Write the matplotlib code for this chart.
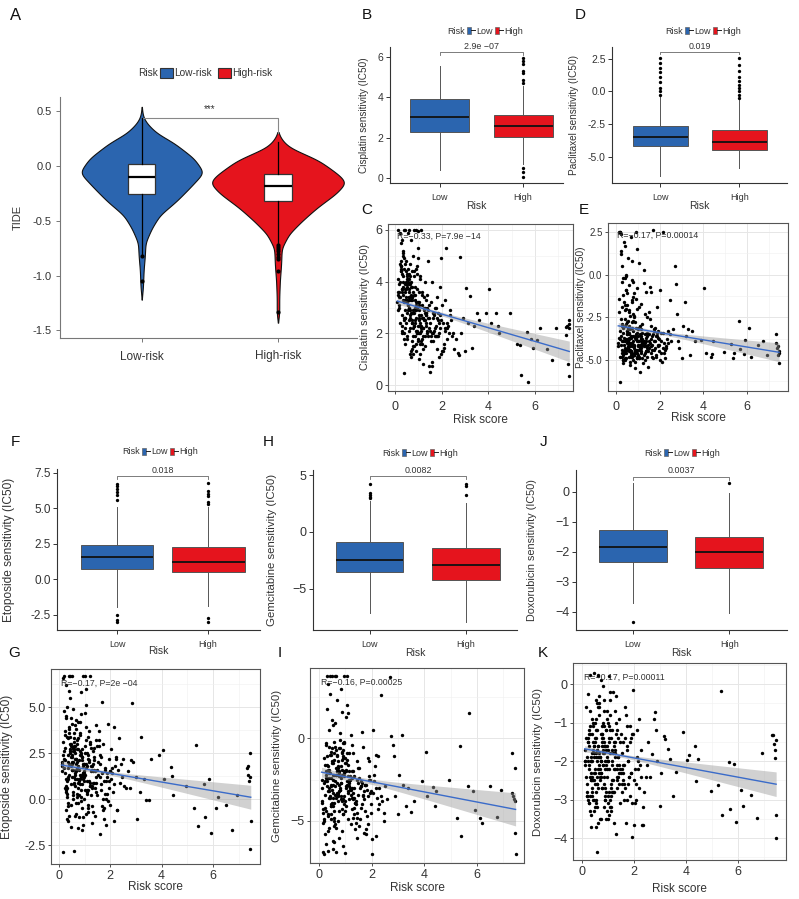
import matplotlib
matplotlib.use("Agg")
import matplotlib.pyplot as plt
import numpy as np
from matplotlib.patches import Patch
from matplotlib.lines import Line2D
from matplotlib.legend_handler import HandlerTuple
from matplotlib.ticker import MultipleLocator, FormatStrFormatter

plt.rcParams['font.family'] = ['Liberation Sans', 'DejaVu Sans']

BLUE = '#2B65AF'
RED = '#E5141D'
W, H = 799, 899

# ---------------- data ----------------
# A: TIDE violin profiles (y value, relative density)
tide_y_low = [0.54, 0.45, 0.39, 0.30, 0.21, 0.07, -0.06, -0.20, -0.32, -0.45, -0.57, -0.70, -0.82, -0.95, -1.10, -1.22]
tide_d_low = [0, .02, .08, .24, .52, .84, 1.0, .77, .56, .29, .16, .06, .05, .03, .02, 0]
tide_y_high = [0.31, 0.24, 0.17, 0.05, -0.08, -0.15, -0.25, -0.38, -0.50, -0.62, -0.75, -0.90, -1.05, -1.20, -1.35, -1.43]
tide_d_high = [0, .06, .18, .66, .98, 1.10, .94, .63, .39, .18, .06, .05, .03, .02, .02, 0]
# box stats: whislo, q1, med, q3, whishi
tide_box_low = [-0.80, -0.26, -0.10, 0.02, 0.44]
tide_box_high = [-0.70, -0.32, -0.18, -0.07, 0.22]
tide_fl_low = [-0.82, -1.05]
tide_fl_high = [-0.72, -0.74, -0.76, -0.78, -0.80, -0.83, -0.85, -0.96, -1.33]

# drug boxplots (Low, High)
cis_box = [[0.38, 2.3, 3.05, 3.9, 5.55], [0.71, 2.04, 2.57, 3.12, 4.55]]
cis_fl = [[], [5.95, 5.81, 5.65, 5.32, 5.2, 4.87, 4.7, 0.47, 0.3, 0.05]]
pac_box = [[-6.47, -4.18, -3.47, -2.66, -0.37], [-5.84, -4.49, -3.85, -2.96, -0.62]]
pac_fl = [[-0.24, 0.01, 0.27, 0.7, 1.1, 1.46, 1.79, 2.17, 2.55],
          [-0.5, -0.24, 0.01, 0.27, 0.52, 0.78, 1.1, 1.53, 2.04, 2.55]]
eto_box = [[-1.95, 0.73, 1.55, 2.43, 5.1], [-1.86, 0.54, 1.22, 2.26, 5.1]]
eto_fl = [[6.75, 6.6, 6.4, 6.15, 5.97, 5.57, -2.5, -2.83, -3.0],
          [6.8, 6.2, 6.05, 5.9, 5.45, 5.33, -2.7, -3.0]]
gem_box = [[-7.08, -3.47, -2.48, -0.9, 2.68], [-7.9, -4.23, -2.94, -1.4, 2.54]]
gem_fl = [[4.23, 3.4, 3.27, 3.1, 2.97], [4.23, 4.05, 3.27]]
dox_box = [[-3.69, -2.33, -1.84, -1.27, 0.3], [-4.02, -2.53, -2.0, -1.5, -0.03]]
dox_fl = [[-4.33], [0.29]]

# risk score of every sample (dense part, then sparse tail)
risk_dense = [
    0.10, 0.14, 0.21, 0.17, 0.26, 0.12, 0.31, 0.23, 0.19, 0.35,
    0.28, 0.15, 0.38, 0.24, 0.33, 0.42, 0.11, 0.29, 0.45, 0.36,
    0.40, 0.48, 0.22, 0.52, 0.34, 0.44, 0.27, 0.56, 0.39, 0.50,
    0.47, 0.58, 0.32, 0.62, 0.43, 0.55, 0.37, 0.60, 0.51, 0.66,
    0.64, 0.53, 0.70, 0.46, 0.68, 0.57, 0.73, 0.41, 0.63, 0.76,
    0.59, 0.72, 0.80, 0.65, 0.78, 0.54, 0.83, 0.69, 0.86, 0.61,
    0.75, 0.89, 0.67, 0.92, 0.81, 0.71, 0.95, 0.77, 0.88, 0.98,
    0.84, 1.01, 0.79, 1.04, 0.91, 0.74, 1.07, 0.96, 0.87, 1.10,
    0.93, 1.13, 0.82, 1.16, 1.00, 0.90, 1.19, 1.05, 0.97, 1.22,
    1.09, 1.25, 0.85, 1.28, 1.12, 0.99, 1.31, 1.02, 1.18, 1.34,
    1.15, 1.37, 1.06, 1.40, 1.21, 0.94, 1.44, 1.27, 1.11, 1.47,
    1.24, 1.50, 1.33, 1.54, 1.08, 1.39, 1.57, 1.30, 1.61, 1.43,
    1.64, 1.36, 1.68, 1.52, 1.72, 1.46, 1.76, 1.59, 1.80, 1.66,
    1.84, 1.55, 1.88, 1.70, 1.92, 1.63, 1.96, 1.78, 2.00, 1.74,
    2.04, 1.86, 2.08, 1.82, 2.13, 1.94, 2.18, 1.90, 2.23, 2.02,
    2.28, 1.98, 2.34, 2.10, 2.40, 2.16, 2.46, 2.21, 2.52, 2.30,
    0.13, 0.25, 0.49, 0.30, 0.62, 0.44, 0.88, 0.53, 1.03, 0.71,
    0.16, 0.58, 0.36, 0.81, 0.47, 1.14, 0.66, 0.97, 0.20, 1.26,
    0.39, 0.74, 0.55, 0.93, 0.63, 1.17, 0.78, 1.35, 0.86, 0.50,
    1.20, 0.68, 1.42, 0.91, 0.34, 1.05, 0.59, 1.29, 0.76, 1.58,
    0.18, 0.42, 0.27, 0.65, 0.51, 0.83, 0.37, 1.02, 0.59, 0.22,
    0.72, 0.31, 0.94, 0.46, 1.13, 0.57, 0.26, 0.79, 1.24, 0.41,
    0.88, 0.53, 1.07, 0.33, 0.69, 1.31, 0.47, 0.96, 0.61, 1.45,
    0.24, 0.77, 0.39, 1.16, 0.55, 0.85, 1.38, 0.29, 1.01, 0.67,
    0.49, 1.21, 0.73, 0.35, 0.92, 1.53, 0.62, 0.19, 1.09, 0.81,
    1.66, 0.43, 1.27, 0.98, 1.74, 0.58, 1.85, 1.12, 0.71, 1.97,
    0.28, 1.35, 0.86, 1.58, 0.45, 1.04, 2.06, 0.64, 1.43, 0.90,
    2.15, 0.52, 1.19, 1.71, 0.37, 0.99, 2.25, 0.75, 1.49, 0.60,
    0.83, 1.62, 0.30, 1.09, 1.89, 0.56, 2.36, 0.95, 1.28, 0.44,
    1.78, 0.68, 2.48, 1.15, 0.40, 1.93, 0.87, 2.60, 1.33, 0.52]
risk_sparse = [2.7, 2.75, 2.8, 2.85, 2.9, 3.0, 3.05, 3.15, 3.2, 3.3,
               3.4, 3.5, 3.6, 3.9, 4.05, 4.1, 4.35, 4.4, 4.45, 4.95,
               5.25, 5.35, 5.4, 5.65, 5.7, 5.85, 5.92, 6.1, 6.2, 6.5,
               6.75, 6.92, 7.32, 7.35, 7.38, 7.42, 7.44, 7.45, 7.46, 7.47]

cis_dense = [
    3.2, 6.0, 2.4, 3.9, 4.8, 3.5, 2.1, 5.9, 3.0, 4.2,
    2.7, 3.6, 1.8, 4.4, 3.3, 2.9, 4.1, 2.3, 6.0, 3.8,
    2.6, 4.0, 3.4, 1.9, 5.1, 2.2, 4.6, 3.1, 0.45, 2.8,
    3.7, 2.5, 4.3, 3.0, 1.6, 4.5, 2.0, 6.0, 3.3, 2.7,
    1.2, 4.1, 3.5, 2.4, 5.6, 2.9, 1.7, 3.9, 4.7, 2.2,
    3.0, 1.4, 4.2, 2.6, 3.6, 5.9, 2.3, 4.0, 1.9, 3.4,
    2.8, 6.0, 1.1, 3.2, 4.4, 2.5, 3.7, 1.5, 2.1, 4.9,
    3.3, 2.0, 5.0, 2.7, 1.3, 3.8, 2.4, 4.6, 3.0, 1.7,
    4.3, 2.2, 6.0, 3.1, 1.8, 2.9, 0.8, 3.6, 5.3, 2.6,
    1.6, 3.4, 2.5, 4.0, 2.1, 5.95, 2.8, 3.2, 1.9, 2.3,
    3.5, 2.0, 4.1, 2.6, 1.4, 3.0, 0.75, 2.8, 6.0, 2.2,
    2.9, 2.4, 3.3, 1.7, 4.2, 2.1, 0.75, 3.0, 2.6, 4.8,
    2.0, 3.5, 2.7, 0.5, 1.9, 3.1, 2.3, 4.0, 1.4, 2.8,
    2.5, 3.2, 1.1, 2.2, 3.8, 1.7, 4.9, 2.6, 1.3, 3.0,
    2.4, 1.9, 1.45, 3.4, 2.1, 2.7, 5.3, 2.0, 1.8, 3.1,
    2.3, 1.2, 2.9, 1.6, 2.5, 3.3, 1.9, 2.2, 1.4, 2.0,
    2.9, 4.4, 3.2, 2.0, 3.7, 2.6, 4.5, 1.8, 3.1, 2.4,
    3.6, 2.1, 4.0, 2.8, 3.4, 1.6, 3.9, 2.3, 4.7, 3.0,
    2.5, 3.3, 4.1, 2.0, 2.9, 3.6, 1.2, 2.7, 3.5, 4.3,
    2.2, 3.8, 1.9, 3.1, 5.0, 2.6, 3.4, 1.5, 2.8, 0.9,
    3.4, 2.6, 4.5, 2.2, 3.8, 1.5, 6.0, 2.9, 3.3, 4.0,
    2.4, 3.7, 2.0, 4.8, 2.7, 3.1, 5.5, 1.9, 2.5, 3.6,
    3.0, 4.2, 2.3, 3.5, 1.3, 2.8, 4.4, 2.1, 3.9, 2.6,
    4.6, 2.9, 3.2, 1.8, 4.1, 2.4, 3.0, 3.7, 1.0, 2.8,
    3.9, 2.2, 3.4, 5.2, 2.6, 1.9, 4.3, 3.1, 2.0, 3.5,
    2.1, 4.7, 2.5, 3.2, 1.9, 3.6, 2.8, 2.3, 4.4, 2.5,
    5.6, 2.7, 3.8, 2.0, 3.3, 2.5, 1.3, 4.2, 2.9, 1.6,
    2.2, 3.9, 2.6, 3.0, 4.9, 1.7, 2.4, 3.4, 2.1, 4.1,
    2.3, 2.8, 3.6, 1.2, 2.4, 4.0, 2.7, 3.0, 1.9, 3.7,
    1.9, 3.3, 2.0, 2.6, 4.5, 2.2, 2.9, 1.8, 2.4, 3.2]
cis_sparse = [1.25, 1.15, 4.97, 2.0, 2.6, 1.3, 3.75, 2.4, 3.43, 1.45,
              2.3, 2.8, 2.5, 2.8, 3.7, 2.4, 2.8, 2.3, 2.0, 2.8,
              1.6, 1.55, 0.37, 2.05, 0.1, 1.8, 1.45, 1.75, 2.2, 1.4,
              0.95, 2.2, 1.95, 2.25, 2.3, 0.8, 2.2, 2.5, 0.35, 2.35]

pac_dense = [
    -4.2, 2.5, -3.6, 2.5, -4.8, -1.4, -3.1, 2.4, -6.3, -4.5,
    -3.9, -2.2, -4.6, 1.2, -3.4, -0.2, -4.0, -2.9, -4.4, -3.7,
    -5.0, -3.3, -4.1, -1.8, -4.7, -3.8, 0.5, -4.3, -2.6, -3.5,
    -4.9, -0.6, -3.9, -4.4, 1.7, -3.2, -4.6, -2.1, -3.8, -5.3,
    -4.1, -2.7, -4.5, -0.9, -3.6, -4.8, -1.6, -3.0, -4.2, -5.0,
    -3.4, 0.8, -4.7, -2.4, -3.9, -4.3, -1.1, -3.7, -5.1, -4.0,
    -2.8, -4.5, 2.2, -3.8, -4.1, -0.3, -4.9, -3.3, -5.5, -2.0,
    -4.3, -3.6, -1.3, -4.8, -3.1, -4.0, 0.7, -3.9, -4.4, -5.7,
    -3.5, -4.6, -2.5, -1.7, -4.2, 2.5, -3.8, -4.9, 1.5, -4.1,
    -3.0, -5.2, -4.4, -0.5, -3.7, -4.1, -2.3, -4.7, -3.4, -5.0,
    -4.5, -1.0, -3.9, -4.3, -2.9, -4.8, -3.6, 0.3, -4.1, -5.4,
    -4.0, -3.5, -4.6, -2.6, -4.4, -3.9, -0.7, -4.2, -3.0, -4.8,
    -4.1, -3.7, -4.9, -2.2, -3.9, -4.5, -3.3, -1.0, -4.3, -3.6,
    -4.7, -4.0, -3.4, 2.6, -4.2, -4.8, -3.8, -3.1, -5.0, -4.4,
    -3.9, -1.9, -4.6, -3.6, 2.5, -4.1, -4.0, -3.3, -4.9, -0.9,
    -4.2, -4.5, -3.8, -5.1, -4.0, -3.4, -1.5, -4.6, -3.9, -4.3,
    -3.7, -4.4, -2.8, -5.0, -3.2, 0.0, -4.5, -3.9, -1.9, -4.2,
    -4.8, -3.5, -4.1, -2.4, -4.6, -3.8, -4.0, -0.8, -3.3, -4.7,
    -4.3, -3.1, 1.0, -4.5, -3.7, -4.9, -2.7, -4.2, -3.6, -4.0,
    -3.9, -4.6, -3.4, -1.4, -5.2, -4.4, -3.0, -4.1, -0.4, -4.6,
    -3.8, -4.4, -1.9, -4.1, -3.5, -4.7, 1.9, -3.2, -4.5, -2.6,
    -4.0, -5.0, -3.4, -0.1, -4.3, -3.7, -4.6, -2.3, -4.0, -3.9,
    -4.6, -3.1, -4.2, -1.2, -4.8, -3.5, -2.0, -4.4, -3.8, -4.1,
    1.4, -3.6, -4.9, -3.2, -4.2, -2.8, -4.5, -0.4, -3.9, -4.7,
    -3.3, -4.0, -4.6, -1.6, -3.7, -4.3, -5.1, 2.5, -3.5, -4.2,
    -4.4, -2.1, -3.9, -4.6, -3.2, -4.0, -4.8, -3.6, -1.5, -4.1,
    -3.0, -4.5, -3.7, -4.2, -0.9, -4.9, -3.4, -4.1, -2.5, -3.8,
    -4.3, -1.1, -4.0, -3.5, -4.6, -3.1, -4.4, -4.8, -3.9, -2.2,
    -4.7, -3.8, -0.2, -4.3, -3.6, -4.0, -3.3, -4.9, -4.1, -2.9,
    -3.9, -4.5, -3.5, -4.2, -1.8, -3.7, -4.6, -3.2, -4.0, -4.4]
pac_sparse = [0.53, -0.53, -2.3, -3.9, -4.3, -4.9, -3.0, -1.6, -3.6, -3.17,
              -4.7, -3.33, -3.9, -3.85, -0.78, -4.6, -4.8, -4.65, -3.9, -4.56,
              -4.07, -4.9, -4.6, -2.7, -4.37, -4.64, -3.85, -3.1, -4.8, -4.1,
              -3.9, -4.7, -3.5, -4.0, -4.3, -4.7, -4.2, -4.5, -5.2, -4.6]

eto_dense = [
    1.5, 6.6, 2.2, -2.9, 4.5, 1.8, 0.3, 2.8, 6.7, 1.1,
    0.7, 2.4, 3.6, 1.4, 0.1, 5.5, 1.9, -0.6, 2.9, 1.2,
    3.9, 0.8, 2.1, 1.6, -1.2, 2.6, 0.5, 4.9, 1.3, 2.0,
    -0.3, 3.3, 1.0, 2.5, 6.7, 0.4, 1.7, -2.8, 2.3, 3.8,
    1.4, 0.2, 2.7, -1.5, 1.9, 3.1, 0.9, 6.7, 2.2, 0.6,
    2.6, 1.1, 4.2, -0.8, 1.6, 2.0, 3.5, 0.3, 5.8, 1.3,
    -0.2, 2.3, 1.5, 6.7, 0.8, 3.0, 1.9, -1.0, 2.7, 1.2,
    4.6, 0.5, 2.1, 1.7, -1.7, 3.3, 6.0, 1.4, 0.1, 2.5,
    1.8, -0.5, 3.6, 1.0, 6.7, 2.3, 0.7, 5.1, 1.5, 3.0,
    0.4, 2.8, 1.2, -1.3, 3.4, 1.9, 0.9, 4.7, 2.0, -0.7,
    2.4, 1.6, 3.9, 0.6, 6.7, 1.1, 3.2, -0.4, 1.8, 2.9,
    1.5, 0.2, 2.6, 3.7, 1.0, -0.9, 3.2, 0.7, 1.9, 4.0,
    0.5, 2.1, -0.4, 1.3, 3.0, 0.9, -1.1, 2.4, 1.6, 5.3,
    0.0, 2.9, 1.2, -0.6, 4.1, 0.8, 2.2, 1.7, -0.3, 1.0,
    2.7, 0.3, 1.4, -1.4, 3.9, 0.6, 1.8, -0.1, 2.3, 1.1,
    -0.6, 1.5, 3.3, 0.4, 1.9, -1.2, 1.2, 2.2, 0.7, 1.6,
    2.0, 0.6, 1.6, 3.4, -0.9, 2.5, 1.3, 0.0, 2.9, 1.7,
    3.1, 1.2, -0.2, 2.4, 1.8, 0.5, 4.3, 1.0, 2.6, 0.2,
    1.9, -1.6, 2.8, 1.4, 0.7, 3.7, 1.1, 2.3, -0.1, 4.1,
    0.9, 2.2, 1.5, -0.5, 2.0, 3.2, 0.8, 1.6, 2.7, -1.9,
    1.7, 3.0, 0.4, 2.2, 6.7, 1.3, -0.4, 2.5, 0.9, 3.7,
    2.0, 0.6, 1.4, 4.4, -0.7, 2.9, 1.1, 0.2, 1.8, 5.9,
    0.8, 2.6, 1.9, -1.1, 3.2, 1.5, 2.3, 0.0, 4.0, 1.2,
    3.5, 1.0, -0.9, 2.1, 1.6, 0.5, 2.8, 6.2, 1.3, -0.2,
    2.4, 0.7, 1.8, 3.3, -1.4, 2.0, 1.1, 4.8, 0.3, 2.6,
    1.4, 2.7, 0.6, 1.9, -0.5, 3.6, 1.0, 2.2, 0.1, 1.5,
    4.4, 0.9, 2.4, 1.2, 3.0, -0.8, 1.7, 2.9, 0.4, 2.1,
    0.8, 1.9, 3.1, 0.0, 2.4, 1.3, -0.6, 4.2, 1.6, 2.7,
    1.1, 2.3, 5.0, 0.5, 1.4, 2.8, 0.9, -1.0, 1.8, 3.4,
    0.3, 1.6, 2.2, -0.3, 3.8, 1.0, 2.5, 0.6, 1.9, 1.2]
eto_sparse = [1.5, 0.6, 2.1, 5.2, 2.0, 1.2, -1.1, 0.4, 3.4, 1.1,
              -0.05, -0.05, 2.2, 2.4, 2.65, 1.1, 1.75, 1.27, 0.2, 0.7,
              -0.5, 2.95, -1.45, 0.8, -0.95, 1.1, -1.85, -0.5, 0.1, -0.35,
              -1.7, 0.2, 1.7, 1.8, 1.3, 1.0, 1.2, 2.5, -2.7, -1.2]

gem_dense = [
    -3.0, -6.9, -1.2, -4.5, -0.3, -3.8, 3.75, -2.6, -7.0, -1.9,
    -2.2, -5.1, 0.5, -3.4, -1.7, 3.75, -3.9, -2.9, -0.8, -4.7,
    -3.6, -1.5, -5.8, -2.5, 3.3, -4.1, -2.0, -0.9, -3.2, 1.1,
    -2.8, -4.4, -1.1, 3.75, -3.5, -6.2, -2.4, -0.5, -3.1, -5.4,
    -1.8, -3.3, 2.3, -4.0, -2.7, -0.2, -5.0, -3.6, 3.75, -2.1,
    -4.8, -1.4, -3.0, -6.9, -2.3, 0.8, -3.7, -1.0, -4.3, -2.6,
    -3.2, 1.6, -2.0, -4.6, -0.6, -3.4, 3.75, -2.8, -5.6, -1.5,
    -2.4, -4.1, -0.1, -3.0, -6.5, -1.8, 2.0, -3.5, -2.2, -4.9,
    -1.2, -3.7, 3.0, -2.5, -4.4, -0.7, -3.1, 3.75, -2.0, -5.2,
    -3.3, -0.4, -2.7, -4.8, -1.6, -6.95, -3.6, 1.3, -2.3, -4.2,
    -2.9, -5.5, -1.3, -3.8, 0.2, -2.1, -4.5, -3.0, 1.5, -3.4,
    -3.6, -1.8, -4.6, -2.4, -0.9, -5.1, -3.0, -2.0, -4.2, -6.0,
    -2.7, -3.9, -0.5, -5.3, -3.2, -1.4, -4.4, -2.6, -5.8, -3.4,
    -3.1, -4.9, -1.2, -3.7, -2.3, 0.4, -4.0, -5.5, -7.0, -2.8,
    0.5, -3.5, -2.6, -4.7, -1.7, -3.3, -5.9, -2.5, -4.3, -6.1,
    -3.0, -4.5, 2.6, -2.2, -3.8, -1.0, -5.0, -3.6, -2.9, -4.0,
    -2.5, -0.4, -3.9, -1.6, -5.2, -2.9, -0.9, -4.1, -2.0, -3.3,
    -4.3, -2.2, -6.8, -3.1, -1.0, -2.7, -3.6, -0.3, -4.9, -2.4,
    -1.9, -3.5, -2.8, -4.6, -0.7, -3.0, -6.0, -2.3, -3.8, -1.4,
    -3.4, -2.0, -4.0, -1.1, -3.2, -2.6, -5.0, -3.7, -0.6, -2.9,
    -2.7, -1.0, -4.4, -2.2, 3.75, -3.5, -0.5, -2.9, -5.3, -1.6,
    -3.8, -2.4, -0.2, -4.9, -2.6, -1.3, -6.4, -3.1, -2.0, 2.7,
    -1.9, -3.6, -2.8, -5.6, -1.1, -3.3, -2.4, -4.0, 0.9, -2.5,
    -4.2, -2.0, -3.0, -0.9, -6.7, -2.7, -3.9, 1.8, -1.5, -3.4,
    -0.6, -3.1, -2.2, -4.6, -3.7, -1.8, -2.9, -5.0, -2.3, 0.3,
    -3.5, -2.1, -4.3, -1.2, -2.8, -3.9, -5.2, -2.6, -1.7, -3.2,
    -2.4, -3.6, -0.8, -2.9, -4.1, -1.9, -3.3, -2.2, -4.8, -0.3,
    -3.0, -1.5, -2.5, -5.7, -2.1, -3.8, -1.1, -4.4, -2.7, -3.4,
    -1.7, -4.0, -2.6, -3.2, -1.4, -6.3, -3.5, -2.3, -0.9, -4.6,
    -2.8, -3.3, -4.5, -2.0, -5.4, -2.5, -1.3, -3.7, -3.0, -2.2]
gem_sparse = [3.73, 0.14, -0.4, -1.1, -3.5, -4.58, -2.2, 0.2, -2.8, -4.07,
              -3.0, -4.43, -3.8, -2.58, -0.8, -3.5, -2.92, -4.1, -3.2, -2.5,
              -4.8, -0.46, -5.9, -2.87, 1.51, -3.17, -4.34, -4.8, -5.14, -2.88,
              -4.75, -3.13, -0.87, -3.3, -3.5, -3.7, -1.77, -3.8, -5.7, -7.0]

dox_dense = [
    -1.7, -2.4, -0.25, -2.9, -1.2, -2.0, -3.3, -1.5, -2.6, -1.9,
    -2.2, -0.6, -1.8, -3.0, -2.5, -1.1, -2.1, 0.25, -1.6, -3.7,
    -2.7, -1.4, -2.0, -0.4, -2.3, 0.28, -3.1, -1.7, -2.4, -1.0,
    -1.9, -3.2, -0.7, -2.2, -1.5, -2.8, -1.3, 0.2, -2.6, -1.8,
    -2.1, -0.9, -3.5, -1.6, -2.4, -1.2, -2.0, -3.0, 0.25, -1.4,
    -4.35, -2.3, -1.7, -0.5, -2.7, -1.9, -1.1, -2.5, -3.2, -1.6,
    -1.3, -2.2, -0.3, -2.8, -1.8, 0.1, -2.4, -1.5, -3.0, -2.0,
    -2.6, -1.0, -2.1, -3.4, -1.7, -2.3, -0.8, -1.9, -2.9, -1.4,
    -1.2, -2.7, -0.05, -2.0, -3.1, -1.6, -2.5, -1.1, -2.2, -3.6,
    -1.8, -0.7, -2.4, -1.5, -3.2, -2.0, -1.3, -2.8, -0.2, -2.1,
    -2.5, -1.4, -3.0, -1.9, -2.2, -0.9, -2.6, -1.7, -3.3, -1.5,
    -1.6, -2.3, -1.2, -2.8, -3.2, -1.9, -2.5, -1.0, -3.0, -2.1,
    -1.4, -2.7, -0.8, -2.2, -1.7, -3.1, -2.0, -1.5, -2.4, -0.6,
    -2.9, -1.8, -2.3, -3.6, -1.3, -2.6, -0.15, -2.0, -3.65, -1.6,
    -2.2, -1.1, -3.0, -2.4, -1.9, -3.98, -2.7, -1.4, -2.1, -3.1,
    -1.7, -2.5, -3.67, -1.2, -2.8, -2.0, -2.4, -0.9, -1.5, -3.67,
    -2.0, -3.1, -1.5, -2.4, -0.6, -1.8, -2.7, -1.2, -2.2, -3.5,
    -1.4, -2.6, -2.0, -1.0, -3.0, -1.7, -2.3, -0.7, -2.9, -1.9,
    -2.5, -1.3, -3.7, -2.1, -1.6, -2.8, -1.1, -2.4, -0.4, -3.2,
    -1.8, -2.2, -0.9, -3.5, -2.0, -1.5, -2.6, -3.9, -1.3, -2.3,
    -1.9, -2.5, -1.3, -0.8, -2.2, -1.6, -2.9, 0.2, -2.0, -1.5,
    -2.4, -1.1, -3.3, -1.8, -2.6, -0.5, -2.1, -1.4, -2.8, -1.7,
    -2.0, -3.0, -1.2, -2.5, -1.9, -0.3, -2.3, -1.6, -3.6, -2.2,
    -1.4, -2.7, -0.9, -2.1, -3.1, -1.8, -2.4, -1.3, -2.9, -0.6,
    -2.3, -1.5, -2.0, -3.4, -1.2, -2.6, -1.9, -2.8, -0.2, -2.1,
    -2.7, -1.0, -2.2, -1.7, -3.0, -2.4, -1.5, -2.9, -2.0, -1.3,
    -1.6, -2.5, -0.7, -2.1, -3.3, -1.4, -2.6, -1.9, -2.3, -3.0,
    -2.2, -1.8, -2.8, -1.1, -2.0, -3.5, -2.4, -1.6, -1.3, -2.7,
    -1.5, -2.1, -2.9, -0.4, -2.3, -1.7, -3.2, -2.0, -1.8, -2.5,
    -2.6, -1.9, -2.1, -1.2, -2.8, -3.1, -1.6, -2.4, -2.2, -1.4]
dox_sparse = [-1.82, -0.9, -0.73, -1.18, -2.0, -3.16, -2.3, -1.35, -1.42, -1.68,
              -1.95, -2.9, -2.28, -1.25, -1.97, -1.85, -1.6, -2.51, -1.95, -2.77,
              -2.62, -0.19, -3.39, -2.02, -3.24, -2.08, -3.57, -2.74, -3.17, -2.88,
              -3.49, -1.78, -1.31, -1.33, -1.55, -1.72, -1.91, -3.39, -4.0, -1.45]

# regression lines: y at x=0.1 and x=7.47
fit_x = [0.1, 7.47]
cis_fit, cis_band = [3.25, 1.3], [0.13, 0.07, 0.40]   # half width at start, min, end
pac_fit, pac_band = [-3.0, -4.55], [0.20, 0.10, 0.55]
eto_fit, eto_band = [1.85, 0.10], [0.20, 0.10, 0.65]
gem_fit, gem_band = [-2.05, -4.3], [0.30, 0.15, 1.00]
dox_fit, dox_band = [-1.68, -2.6], [0.08, 0.045, 0.32]

# ---------------- drawing ----------------
fig = plt.figure(figsize=(W / 100, H / 100), dpi=100)


def rect(x0, y0, x1, y1):
    return [x0 / W, 1 - y1 / H, (x1 - x0) / W, (y1 - y0) / H]


def label_coords(ax, r, ylab_cx=None, xlab_top=None, fs=7):
    x0, y0, x1, y1 = r
    if ylab_cx is not None:
        ax.yaxis.set_label_coords((ylab_cx + fs * 0.55 - x0) / (x1 - x0), 0.5)
    if xlab_top is not None:
        ax.xaxis.set_label_coords(0.5, -(xlab_top - y1) / (y1 - y0))


def risk_legend(x_end, y, labels, fs, big=False):
    fig.text(x_end / W, 1 - y / H, 'Risk', ha='right', va='center', fontsize=fs, color='#333333')
    if big:
        hs = [Patch(facecolor=BLUE, edgecolor='#333333', lw=0.8),
              Patch(facecolor=RED, edgecolor='#333333', lw=0.8)]
        kw = dict(handlelength=1.3, handleheight=1.2, handletextpad=0.1, columnspacing=0.6)
    else:
        hs = [(Patch(facecolor=BLUE, edgecolor='#666666', lw=0.5), Line2D([], [], color='#222222', lw=0.7)),
              (Patch(facecolor=RED, edgecolor='#666666', lw=0.5), Line2D([], [], color='#222222', lw=0.7))]
        kw = dict(handlelength=0.9, handleheight=0.75, handletextpad=0.1, columnspacing=0.3,
                  handler_map={tuple: HandlerTuple(ndivide=None)})
    leg = fig.legend(hs, labels, loc='center left', bbox_to_anchor=((x_end + 2) / W, 1 - y / H),
                     ncol=2, frameon=False, borderpad=0, borderaxespad=0, fontsize=fs, **kw)
    for t in leg.get_texts():
        t.set_color('#333333')


def classic(ax, tick_fs, col='#333333'):
    for s in ('top', 'right'):
        ax.spines[s].set_visible(False)
    for s in ('left', 'bottom'):
        ax.spines[s].set_color(col)
        ax.spines[s].set_linewidth(0.8)
    ax.tick_params(colors=col, labelcolor='#333333', length=3, width=0.7, labelsize=tick_fs)


def bracket(ax, y, d, text, fs):
    ax.plot([1, 1, 2, 2], [y - d, y, y, y - d], color='#666666', lw=0.6, clip_on=False)
    ax.text(1.5, y + d * 0.4, text, ha='center', va='bottom', fontsize=fs, color='#333333')


def smooth_profile(yk, dk):
    yk = np.asarray(yk)[::-1]
    dk = np.asarray(dk)[::-1]
    yy = np.linspace(yk[0], yk[-1], 500)
    dd = np.interp(yy, yk, dk)
    k = np.exp(-0.5 * (np.arange(-25, 26) / 9.0) ** 2)
    k /= k.sum()
    dd = np.convolve(np.pad(dd, 25, mode='edge'), k, mode='valid')
    return yy, dd


FLIER = dict(marker='o', markersize=2.4, markerfacecolor='black', markeredgewidth=0)

# ---- Panel A ----
rA = (60, 97, 357, 338)
axA = fig.add_axes(rect(*rA))
for pos, yk, dk, col in ((1, tide_y_low, tide_d_low, BLUE), (2, tide_y_high, tide_d_high, RED)):
    yy, dd = smooth_profile(yk, dk)
    hw = dd * 0.456
    axA.fill_betweenx(yy, pos - hw, pos + hw, facecolor=col, edgecolor='#111111', lw=0.8, zorder=1)
statsA = []
for s, fl in ((tide_box_low, tide_fl_low), (tide_box_high, tide_fl_high)):
    statsA.append(dict(whislo=s[0], q1=s[1], med=s[2], q3=s[3], whishi=s[4], fliers=fl))
axA.bxp(statsA, positions=[1, 2], widths=0.2, patch_artist=True, showcaps=False,
        boxprops=dict(facecolor='white', edgecolor='#333333', lw=0.9),
        medianprops=dict(color='black', lw=1.6),
        whiskerprops=dict(color='black', lw=0.9),
        flierprops=dict(FLIER, markersize=3),
        zorder=3)
axA.plot([1, 1, 2, 2], [0.40, 0.44, 0.44, 0.30], color='#888888', lw=0.8)
axA.text(1.5, 0.47, '***', ha='center', va='bottom', fontsize=7, color='#333333')
axA.set_xlim(0.4, 2.58)
axA.set_ylim(-1.57, 0.63)
axA.set_yticks([0.5, 0.0, -0.5, -1.0, -1.5])
axA.yaxis.set_major_formatter(FormatStrFormatter('%.1f'))
axA.set_xticks([1, 2])
axA.set_xticklabels(['Low-risk', 'High-risk'])
classic(axA, 8, col='#777777')
axA.tick_params(axis='x', labelsize=8.5, pad=6)
axA.tick_params(axis='y', pad=3)
axA.set_ylabel('TIDE', fontsize=8, color='#333333')
label_coords(axA, rA, ylab_cx=18, fs=8)
risk_legend(158, 73, ['Low-risk', 'High-risk'], 7.3, big=True)


# ---- box panels ----
def box_panel(r, box, fl, xlim, ylim, yticks, fmt, ylabel, pval, py, tick_fs, ylab_fs, width,
              ylab_cx, xt_pad, xlab_top, leg_x, leg_y, leg_fs):
    ax = fig.add_axes(rect(*r))
    stats = [dict(whislo=s[0], q1=s[1], med=s[2], q3=s[3], whishi=s[4], fliers=f) for s, f in zip(box, fl)]
    bp = ax.bxp(stats, positions=[1, 2], widths=width, patch_artist=True, showcaps=False,
                boxprops=dict(edgecolor='#555555', lw=0.7),
                medianprops=dict(color='#111111', lw=1.3),
                whiskerprops=dict(color='#555555', lw=0.7),
                flierprops=FLIER)
    for patch, col in zip(bp['boxes'], (BLUE, RED)):
        patch.set_facecolor(col)
    ax.set_xlim(*xlim)
    ax.set_ylim(*ylim)
    ax.set_yticks(yticks)
    if fmt:
        ax.yaxis.set_major_formatter(FormatStrFormatter(fmt))
    ax.set_xticks([1, 2])
    ax.set_xticklabels(['Low', 'High'])
    classic(ax, tick_fs)
    ax.tick_params(axis='x', labelsize=6.5, pad=xt_pad)
    ax.tick_params(axis='y', pad=1.5)
    ax.set_ylabel(ylabel, fontsize=ylab_fs, color='#333333')
    ax.set_xlabel('Risk', fontsize=7.5, color='#333333')
    label_coords(ax, r, ylab_cx=ylab_cx, xlab_top=xlab_top, fs=ylab_fs)
    bracket(ax, py, (ylim[1] - ylim[0]) * 0.02, pval, 6.4)
    risk_legend(leg_x, leg_y, ['Low', 'High'], leg_fs)
    return ax


box_panel((390, 47, 563, 183), cis_box, cis_fl, (0.4, 2.48), (-0.25, 6.5), [0, 2, 4, 6], None,
          'Cisplatin sensitivity (IC50)', '2.9e \u221207', 6.25, 7.5, 7.2, 0.71,
          365, 4, 201, 465, 31, 6.5)
box_panel((612, 47, 787, 183), pac_box, pac_fl, (0.39, 2.6), (-7.0, 3.4), [-5.0, -2.5, 0.0, 2.5], '%.1f',
          'Paclitaxel sensitivity (IC50)', '0.019', 3.04, 7.5, 7.2, 0.7,
          575, 4, 201, 683, 31, 6.5)
box_panel((57, 469, 260, 630), eto_box, eto_fl, (0.34, 2.57), (-3.56, 7.78), [-2.5, 0.0, 2.5, 5.0, 7.5], '%.1f',
          'Etoposide sensitivity (IC50)', '0.018', 7.29, 8.5, 8.6, 0.8,
          10, 4.5, 646, 140, 452, 6.5)
box_panel((313, 470, 517, 630), gem_box, gem_fl, (0.41, 2.53), (-8.6, 5.44), [-5, 0, 5], None,
          'Gemcitabine sensitivity (IC50)', '0.0082', 4.9, 9, 8.2, 0.7,
          272, 4.5, 648, 400, 453, 6.5)
box_panel((576, 470, 787, 630), dox_box, dox_fl, (0.41, 2.6), (-4.6, 0.73), [-4, -3, -2, -1, 0], None,
          'Doxorubicin sensitivity (IC50)', '0.0037', 0.51, 9, 7.8, 0.7,
          533, 4.5, 648, 662, 453, 6.5)


# ---- scatter panels ----
def band_halfwidth(xs, x0, x1, h0, hm, h1):
    r = np.sqrt((h0 ** 2 - hm ** 2) / (h1 ** 2 - hm ** 2))
    xc = (x0 + r * x1) / (1 + r)
    k = (h1 ** 2 - hm ** 2) / (x1 - xc) ** 2
    return np.sqrt(hm ** 2 + k * (xs - xc) ** 2)


def scatter_panel(r, yd, ys, fit, band, xlim, ylim, yticks, fmt, yminor, ylabel, rtext,
                  ytick_fs, ylab_fs, ylab_cx, xt_pad, xlab_top):
    ax = fig.add_axes(rect(*r))
    x = np.array(risk_dense + risk_sparse)
    y = np.array(yd + ys)
    ax.scatter(x, y, s=6, color='black', lw=0, zorder=2)
    xs = np.linspace(fit_x[0], fit_x[1], 200)
    line = np.interp(xs, fit_x, fit)
    hw = band_halfwidth(xs, fit_x[0], fit_x[1], *band)
    ax.fill_between(xs, line - hw, line + hw, color='#999999', alpha=0.45, lw=0, zorder=3)
    ax.plot(xs, line, color='#3A6BC9', lw=1.0, zorder=4)
    ax.set_xlim(*xlim)
    ax.set_ylim(*ylim)
    ax.set_xticks([0, 2, 4, 6])
    ax.xaxis.set_minor_locator(MultipleLocator(1))
    ax.set_yticks(yticks)
    ax.yaxis.set_minor_locator(MultipleLocator(yminor))
    if fmt:
        ax.yaxis.set_major_formatter(FormatStrFormatter(fmt))
    ax.grid(which='major', color='#E6E6E6', lw=0.7)
    ax.grid(which='minor', color='#F0F0F0', lw=0.4)
    ax.set_axisbelow(True)
    for s in ax.spines.values():
        s.set_color('#555555')
        s.set_linewidth(0.8)
    ax.tick_params(which='major', colors='#333333', labelcolor='#333333', length=2.5, width=0.6, labelsize=9)
    ax.tick_params(which='minor', length=0)
    ax.tick_params(axis='x', pad=xt_pad)
    ax.tick_params(axis='y', labelsize=ytick_fs, pad=1.5)
    ax.set_ylabel(ylabel, fontsize=ylab_fs, color='#333333')
    ax.set_xlabel('Risk score', fontsize=8.5, color='#333333')
    label_coords(ax, r, ylab_cx=ylab_cx, xlab_top=xlab_top, fs=ylab_fs)
    ax.text(0.05, 0.925, rtext, transform=ax.transAxes, ha='left', va='center', fontsize=6.3,
            color='#333333', zorder=5)
    return ax


scatter_panel((388, 224, 573, 391), cis_dense, cis_sparse, cis_fit, cis_band, (-0.3, 7.63), (-0.23, 6.23),
              [0, 2, 4, 6], None, 1, 'Cisplatin sensitivity (IC50)', 'R=\u22120.33, P=7.9e \u221214',
              9, 7.8, 366, 4.5, 414)
scatter_panel((608, 223, 788, 391), pac_dense, pac_sparse, pac_fit, pac_band, (-0.37, 7.88), (-6.82, 3.03),
              [-5.0, -2.5, 0.0, 2.5], '%.1f', 1.25, 'Paclitaxel sensitivity (IC50)', 'R=\u22120.17, P=0.00014',
              7, 7.3, 582, 4.5, 412)
scatter_panel((51, 669, 260, 864), eto_dense, eto_sparse, eto_fit, eto_band, (-0.31, 7.83), (-3.53, 7.07),
              [-2.5, 0.0, 2.5, 5.0], '%.1f', 1.25, 'Etoposide sensitivity (IC50)', 'R=\u22120.17, P=2e \u221204',
              9, 8.6, 8, 2, 881)
scatter_panel((310, 668, 524, 863), gem_dense, gem_sparse, gem_fit, gem_band, (-0.34, 7.79), (-7.54, 4.25),
              [-5, 0], None, 2.5, 'Gemcitabine sensitivity (IC50)', 'R=\u22120.16, P=0.00025',
              9, 8.2, 277, 2, 882)
scatter_panel((573, 663, 786, 860), dox_dense, dox_sparse, dox_fit, dox_band, (-0.35, 7.85), (-4.57, 0.55),
              [-4, -3, -2, -1, 0], None, 0.5, 'Doxorubicin sensitivity (IC50)', 'R=\u22120.17, P=0.00011',
              9, 8.2, 538, 2, 883)

# panel letters
for letter, px, py in (('A', 10, 15), ('B', 362, 15), ('D', 575, 15), ('C', 361, 210), ('E', 579, 210),
                       ('F', 11, 442), ('H', 263, 442), ('J', 540, 442), ('G', 8, 653), ('I', 278, 653),
                       ('K', 538, 653)):
    fig.text(px / W, 1 - py / H, letter, ha='left', va='center', fontsize=12 if letter == 'A' else 11,
             color='#111111')

fig.savefig('out.png', dpi=100)
